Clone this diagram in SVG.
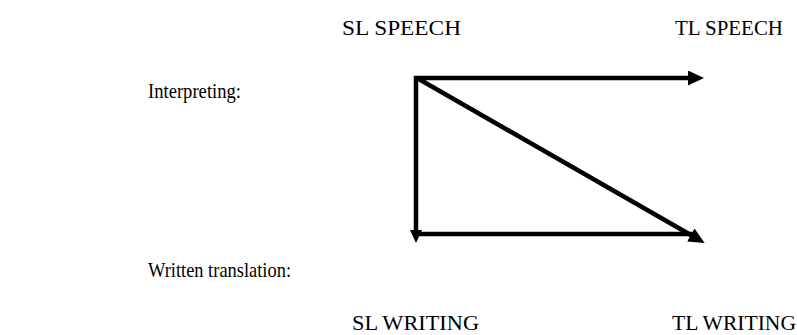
<svg xmlns="http://www.w3.org/2000/svg" width="797" height="335" viewBox="0 0 797 335">
<style>
.t{font-family:"Liberation Serif","Times New Roman",serif;font-size:22px;fill:#000}
.c{stroke:#000;stroke-width:4.5;fill:none}
</style>
<defs>
<marker id="ah" markerUnits="userSpaceOnUse" markerWidth="18" markerHeight="16" refX="6" refY="7.5" orient="auto" viewBox="0 0 18 16">
<path d="M0,0 L16,7.5 L0,15 z" fill="#000"/>
</marker>
<marker id="ahs" markerUnits="userSpaceOnUse" markerWidth="14" markerHeight="14" refX="5" refY="6" orient="auto" viewBox="0 0 14 14">
<path d="M0,0 L13,6 L0,12 z" fill="#000"/>
</marker>
</defs>
<rect width="797" height="335" fill="#fff"/>
<g id="label-interpreting"><text class="t" x="148" y="98" textLength="93" lengthAdjust="spacingAndGlyphs">Interpreting:</text></g>
<g id="label-written"><text class="t" x="148" y="277" textLength="143" lengthAdjust="spacingAndGlyphs">Written translation:</text></g>
<g id="sl-speech"><text class="t" x="342" y="35" textLength="119" lengthAdjust="spacingAndGlyphs">SL SPEECH</text></g>
<g id="tl-speech"><text class="t" x="675" y="35" textLength="108" lengthAdjust="spacingAndGlyphs">TL SPEECH</text></g>
<g id="sl-writing"><text class="t" x="352" y="330" textLength="127" lengthAdjust="spacingAndGlyphs">SL WRITING</text></g>
<g id="tl-writing"><text class="t" x="672" y="330" textLength="124" lengthAdjust="spacingAndGlyphs">TL WRITING</text></g>
<g id="connectors">
<path class="c" d="M414,78 L694,78" marker-end="url(#ah)"/>
<path class="c" d="M416,76 L416,235" marker-end="url(#ahs)"/>
<path class="c" d="M416,234 L696,234"/>
<path class="c" d="M417,78 L696,238" marker-end="url(#ah)"/>
</g>
</svg>
